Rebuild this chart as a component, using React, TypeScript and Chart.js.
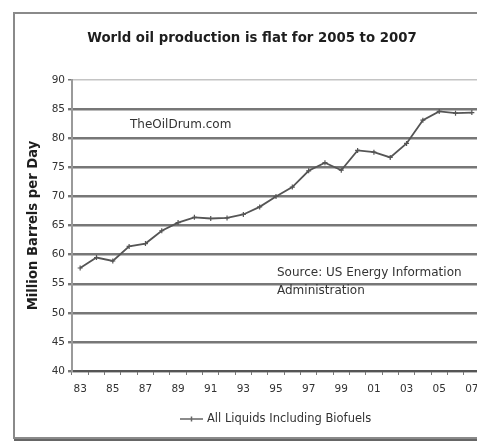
import React, { useEffect, useRef } from "react";
import { Chart, registerables } from "chart.js";

Chart.register(...registerables);

const years = [
  "83", "84", "85", "86", "87", "88", "89", "90", "91", "92", "93", "94", "95",
  "96", "97", "98", "99", "00", "01", "02", "03", "04", "05", "06", "07",
];
const allLiquids = [
  57.7, 59.5, 58.9, 61.4, 61.9, 64.1, 65.5, 66.4, 66.2, 66.3, 66.9, 68.2, 70.0,
  71.6, 74.4, 75.8, 74.5, 77.9, 77.6, 76.7, 79.1, 83.1, 84.6, 84.3, 84.4,
];
const yTicks = [40, 45, 50, 55, 60, 65, 70, 75, 80, 85, 90];
const titleText = "World oil production is flat for 2005 to 2007";
const yAxisTitle = "Million Barrels per Day";
const seriesName = "All Liquids Including Biofuels";
const noteSite = "TheOilDrum.com";
const noteSource = ["Source: US Energy Information", "Administration"];

const FONT = "'DejaVu Sans', Verdana, sans-serif";

const textPlugin = {
  id: "textPlugin",
  afterDraw(chart: any) {
    const ctx = chart.ctx;
    const a = chart.chartArea;
    ctx.save();
    ctx.fillStyle = "#1e1e1e";
    ctx.textBaseline = "middle";
    // title
    ctx.font = `bold 13.3px ${FONT}`;
    ctx.textAlign = "center";
    ctx.fillText(titleText, 237, 25);
    // notes
    ctx.font = `12px ${FONT}`;
    ctx.textAlign = "left";
    ctx.fillStyle = "#333";
    ctx.fillText(noteSite, a.left + 58, a.top + 45);
    ctx.fillText(noteSource[0], a.left + 205, a.top + 193);
    ctx.fillText(noteSource[1], a.left + 205, a.top + 211);
    // legend
    const ly = 405;
    ctx.strokeStyle = "#666";
    ctx.lineWidth = 1.5;
    ctx.beginPath();
    ctx.moveTo(165, ly);
    ctx.lineTo(188, ly);
    ctx.moveTo(176.5, ly - 2.5);
    ctx.lineTo(176.5, ly + 2.5);
    ctx.stroke();
    ctx.font = `11.5px ${FONT}`;
    ctx.fillStyle = "#333";
    ctx.fillText(seriesName, 192, ly);
    ctx.restore();
  },
};

export default function App() {
  const ref = useRef<HTMLCanvasElement>(null);
  useEffect(() => {
    if (!ref.current) return;
    const chart = new Chart(ref.current, {
      type: "line",
      data: {
        labels: years,
        datasets: [
          {
            label: seriesName,
            data: allLiquids,
            borderColor: "#555",
            borderWidth: 1.8,
            pointStyle: "cross",
            pointRadius: 2.5,
            pointBorderColor: "#555",
            pointBorderWidth: 1.2,
            tension: 0,
            fill: false,
          },
        ],
      },
      options: {
        animation: false,
        responsive: false,
        devicePixelRatio: 1,
        layout: { padding: { top: 66, left: 0, right: 11, bottom: 0 } },
        plugins: {
          legend: { display: false },
          title: { display: false },
          tooltip: { enabled: false },
        },
        scales: {
          x: {
            type: "category",
            offset: true,
            afterFit(scale: any) {
              scale.height = 64;
            },
            grid: {
              offset: true,
              drawOnChartArea: false,
              drawTicks: true,
              tickLength: 4,
              color: "#777",
            },
            border: { color: "#555", width: 2 },
            ticks: {
              autoSkip: false,
              maxRotation: 0,
              padding: 8,
              color: "#333",
              font: { family: FONT, size: 10.5 },
              callback: (_v: any, i: number) => (i % 2 === 0 ? years[i] : ""),
            },
          },
          y: {
            min: yTicks[0],
            max: yTicks[yTicks.length - 1],
            afterFit(scale: any) {
              scale.width = 57;
            },
            afterBuildTicks(scale: any) {
              scale.ticks = yTicks.map((v) => ({ value: v }));
            },
            grid: {
              color: (c: any) => (c.tick && c.tick.value === 90 ? "#c4c4c4" : "#777"),
              lineWidth: (c: any) => (c.tick && c.tick.value === 90 ? 1.5 : 2.4),
              tickLength: 4,
              tickColor: "#777",
            },
            border: { color: "#9a9a9a", width: 2 },
            ticks: {
              padding: 3,
              color: "#333",
              font: { family: FONT, size: 10.5 },
            },
            title: {
              display: true,
              text: yAxisTitle,
              color: "#1e1e1e",
              font: { family: FONT, size: 13.2, weight: "bold" },
              padding: { top: 11, bottom: 0 },
            },
          },
        },
      },
      plugins: [textPlugin],
    });
    return () => chart.destroy();
  }, []);

  return (
    <div
      style={{
        position: "fixed",
        left: 0,
        top: 0,
        width: 477,
        height: 441,
        overflow: "hidden",
        background: "#fff",
      }}
    >
      <div
        style={{
          position: "absolute",
          left: 13,
          top: 12,
          width: 478,
          height: 423,
          border: "2px solid #8a8a8a",
          boxShadow: "1px 2px 0 #666",
          background: "#fff",
        }}
      >
        <canvas ref={ref} width={476} height={421} style={{ display: "block" }} />
      </div>
    </div>
  );
}
